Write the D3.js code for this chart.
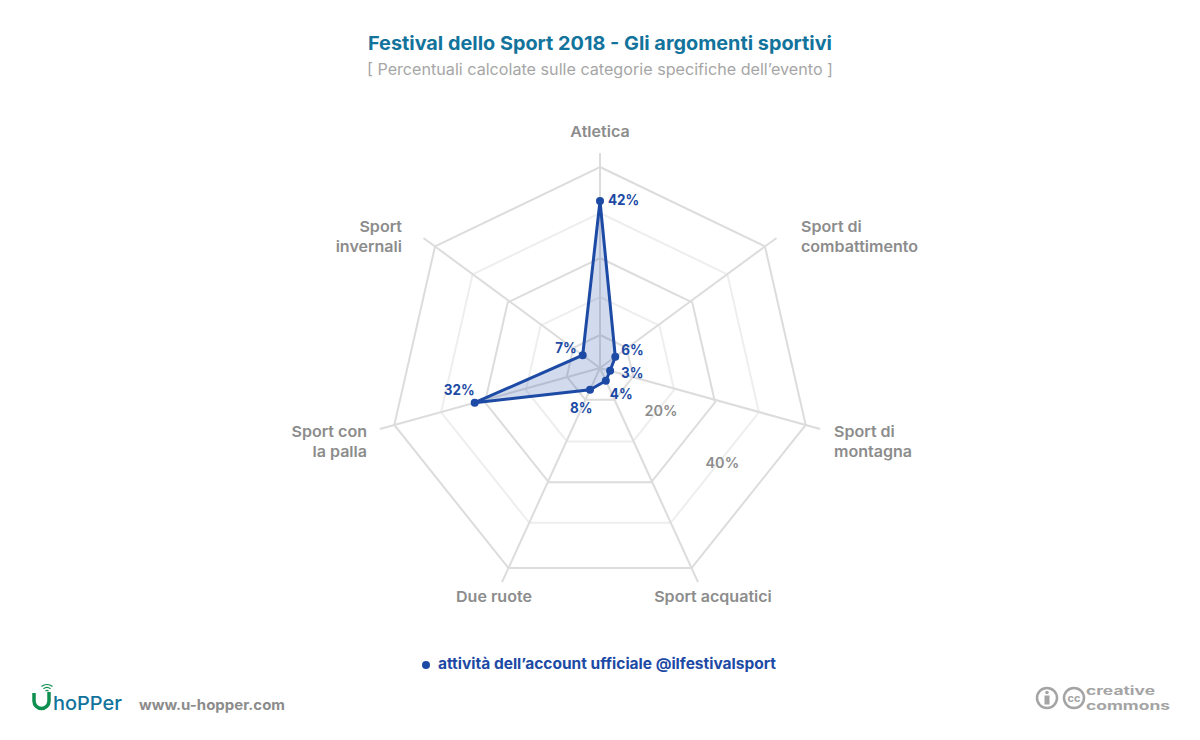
<!DOCTYPE html>
<html>
<head>
<meta charset="utf-8">
<title>Festival dello Sport 2018</title>
<script src="https://cdn.jsdelivr.net/npm/d3@7"></script>
<style>
    html, body { margin: 0; background: #fff; }
    text { font-family: Inter, "Open Sans", sans-serif; }
</style>
</head>
<body>
<div id="chart"></div>
<script>
// Data, clockwise from the top
const categories = ["Atletica", "Sport di combattimento", "Sport di montagna", "Sport acquatici", "Due ruote", "Sport con la palla", "Sport invernali"];
const categoryLines = [["Atletica"], ["Sport di", "combattimento"], ["Sport di", "montagna"], ["Sport acquatici"], ["Due ruote"], ["Sport con", "la palla"], ["Sport", "invernali"]];
const activity = [42, 6, 3, 4, 8, 32, 7];
const gridValues = [10, 20, 30, 40, 50];
const tickValues = [20, 40];

const width = 1200;
const height = 740;
const blue = "#1c4aa5";
const grey = "#8c8c8c";
const ccGrey = "#a4a4a4";

// The web in the picture is not quite concentric: the rings drift down as they
// get bigger, so radius and centre each get their own scale
const hub = [600, 368];
const ringRadius = d3.scaleLinear().domain([0, 10, 20, 30, 40, 50]).range([0, 34, 76, 118, 163, 211]);
const ringCentreY = d3.scaleLinear().domain([0, 10, 20, 30, 40, 50]).range([368, 369, 373, 376, 376, 378]);
// Distance of the data points from the hub, along the spoke
const pointRadius = d3.scaleLinear().domain([0, 4, 8, 32, 42]).range([0, 14, 24, 130, 167]);
const angle = d3.scaleLinear().domain([0, categories.length]).range([0, 2 * Math.PI]);

function ringPoint(i, value) {
    const a = angle(i);
    return [hub[0] + ringRadius(value) * Math.sin(a), ringCentreY(value) - ringRadius(value) * Math.cos(a)];
}

// Unit vector from the hub through the outer vertex of the web
function spokeDir(i) {
    const p = ringPoint(i, 50);
    const dx = p[0] - hub[0];
    const dy = p[1] - hub[1];
    const len = Math.hypot(dx, dy);
    return [dx / len, dy / len, len];
}

function dataPoint(i, value) {
    const d = spokeDir(i);
    return [hub[0] + d[0] * pointRadius(value), hub[1] + d[1] * pointRadius(value)];
}

const svg = d3.select("#chart").append("svg")
    .attr("width", width)
    .attr("height", height)
    .style("display", "block");

// Add text; fit stretches it to a width, widen scales its natural width
function addText(parent, str, x, y, opts) {
    const t = parent.append("text")
        .attr("x", x)
        .attr("y", y)
        .attr("text-anchor", opts.anchor || "start")
        .attr("font-size", opts.size)
        .attr("font-weight", opts.weight || 600)
        .attr("fill", opts.fill)
        .text(str);
    const fit = opts.fit || (opts.widen ? t.node().getComputedTextLength() * opts.widen : 0);
    if (fit) {
        t.attr("textLength", fit).attr("lengthAdjust", "spacingAndGlyphs");
    }
    return t;
}

// Title
addText(svg, "Festival dello Sport 2018 - Gli argomenti sportivi", 600, 50, {anchor: "middle", size: 19, weight: 700, fill: "#12739c", fit: 464});
addText(svg, "[ Percentuali calcolate sulle categorie specifiche dell\u2019evento ]", 600, 75, {anchor: "middle", size: 15.5, weight: 400, fill: "#a6a6a6", fit: 466});

// Web
const web = svg.append("g").attr("fill", "none").attr("stroke-width", 2);
const ringLine = d3.line().curve(d3.curveLinearClosed);

web.selectAll(".ring")
    .data(gridValues)
    .enter().append("path")
    .attr("class", "ring")
    .attr("d", v => ringLine(categories.map((c, i) => ringPoint(i, v))))
    .attr("stroke", (v, i) => i % 2 === 0 ? "#dcdcdc" : "#eeeeee");

web.selectAll(".spoke")
    .data(categories)
    .enter().append("line")
    .attr("class", "spoke")
    .attr("x1", hub[0])
    .attr("y1", hub[1])
    .attr("x2", (c, i) => hub[0] + spokeDir(i)[0] * spokeDir(i)[2] * 1.07)
    .attr("y2", (c, i) => hub[1] + spokeDir(i)[1] * spokeDir(i)[2] * 1.07)
    .attr("stroke", "#dcdcdc");

// Tick labels sit on the middle of the ring edge, lower right
tickValues.forEach(v => {
    const a = ringPoint(2, v);
    const b = ringPoint(3, v);
    addText(svg, v + "%", (a[0] + b[0]) / 2 + 7.5, (a[1] + b[1]) / 2 + 0.5, {anchor: "middle", size: 14, fill: grey, widen: 1.03});
});

// Category labels
const categoryLayout = [
    {x: 600, y: 137, anchor: "middle"},
    {x: 801, y: 232, anchor: "start"},
    {x: 834, y: 437, anchor: "start"},
    {x: 713, y: 602, anchor: "middle"},
    {x: 494, y: 602, anchor: "middle"},
    {x: 367, y: 437, anchor: "end"},
    {x: 402, y: 232, anchor: "end"}
];
categoryLines.forEach((lines, i) => {
    const l = categoryLayout[i];
    lines.forEach((line, j) => {
        addText(svg, line, l.x, l.y + j * 19.5, {anchor: l.anchor, size: 15, fill: grey, widen: 1.07});
    });
});

// Series
const points = activity.map((v, i) => dataPoint(i, v));
svg.append("path")
    .attr("d", ringLine(points))
    .attr("fill", blue)
    .attr("fill-opacity", 0.2)
    .attr("stroke", blue)
    .attr("stroke-width", 3)
    .attr("stroke-linejoin", "miter");

svg.selectAll(".dot")
    .data(points)
    .enter().append("circle")
    .attr("class", "dot")
    .attr("cx", d => d[0])
    .attr("cy", d => d[1])
    .attr("r", 4)
    .attr("fill", blue);

// Value labels, offsets from their point
const valueOffsets = [[8, 3.5], [6, -2], [11, 7], [4, 18], [2.5, 23.5], [0, -7.5], [-6, -2]];
const valueAnchors = ["start", "start", "start", "start", "end", "end", "end"];
activity.forEach((v, i) => {
    addText(svg, v + "%", points[i][0] + valueOffsets[i][0], points[i][1] + valueOffsets[i][1], {anchor: valueAnchors[i], size: 14.5, weight: 700, fill: blue, widen: 0.93});
});

// Legend
svg.append("circle").attr("cx", 426).attr("cy", 665).attr("r", 4).attr("fill", blue);
addText(svg, "attivit\u00e0 dell\u2019account ufficiale @ilfestivalsport", 438, 669, {size: 15, weight: 700, fill: blue, fit: 338});

// U-hopper logo
const logo = svg.append("g");
logo.append("path")
    .attr("d", "M34 693 V701 A7.5 7.5 0 0 0 49 701 V692")
    .attr("fill", "none")
    .attr("stroke", "#0f8f4f")
    .attr("stroke-width", 3.5);
const wifi = d3.arc().startAngle(-0.7).endAngle(0.7);
[2.5, 5.5, 8.5].forEach(r => {
    logo.append("path")
        .attr("transform", "translate(47,693)")
        .attr("d", wifi({innerRadius: r - 0.6, outerRadius: r + 0.6}))
        .attr("fill", "#0f8f4f");
});
addText(logo, "hoPPer", 53, 709.5, {size: 19, weight: 500, fill: "#12739c", fit: 69});
addText(svg, "www.u-hopper.com", 139, 710, {size: 14, weight: 700, fill: grey, fit: 146});

// Creative commons mark
const cc = svg.append("g").attr("fill", "none").attr("stroke", ccGrey).attr("stroke-width", 2.5);
cc.append("circle").attr("cx", 1047).attr("cy", 698).attr("r", 10);
cc.append("circle").attr("cx", 1074).attr("cy", 698).attr("r", 10);
cc.append("circle").attr("cx", 1047).attr("cy", 692.5).attr("r", 1.8).attr("fill", ccGrey).attr("stroke", "none");
cc.append("rect").attr("x", 1044.5).attr("y", 695.5).attr("width", 5).attr("height", 9).attr("fill", ccGrey).attr("stroke", "none");
addText(svg, "cc", 1074, 702, {anchor: "middle", size: 11, weight: 700, fill: ccGrey});

// Wordmark lines are tight, font kept small enough that they don't collide
addText(svg, "creative", 1086, 694.5, {size: 12, weight: 700, fill: ccGrey, fit: 69});
addText(svg, "commons", 1086, 709.5, {size: 12, weight: 700, fill: ccGrey, fit: 84});
</script>
</body>
</html>
